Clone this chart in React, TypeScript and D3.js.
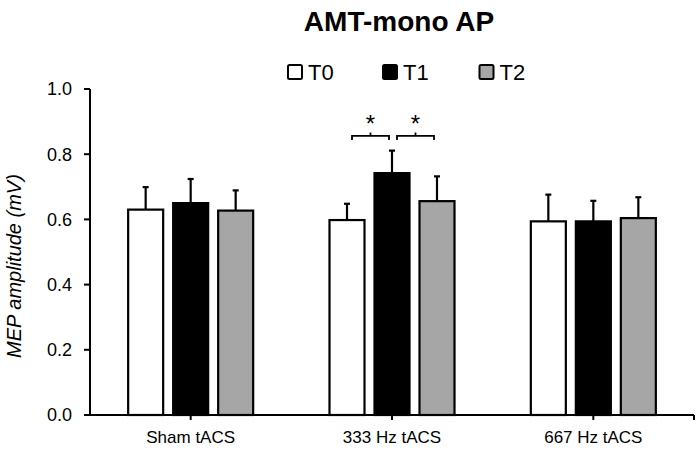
import React from "react";
import * as d3 from "d3";

const categories = ["Sham tACS", "333 Hz tACS", "667 Hz tACS"];
const series = ["T0", "T1", "T2"];
const seriesColors = ["#ffffff", "#000000", "#a6a6a6"];
const meanT0 = [0.63, 0.598, 0.594];
const meanT1 = [0.65, 0.742, 0.594];
const meanT2 = [0.627, 0.656, 0.604];
const errT0 = [0.069, 0.05, 0.082];
const errT1 = [0.074, 0.069, 0.063];
const errT2 = [0.062, 0.076, 0.064];
const yTicks = [0, 0.2, 0.4, 0.6, 0.8, 1.0];
// significance brackets: category index, series from, series to, level
const sigCategory = [1, 1];
const sigFrom = [0, 1];
const sigTo = [1, 2];
const sigLevel = [0.856, 0.856];

const W = 696;
const H = 450;
const FONT = "'Liberation Sans', Arial, sans-serif";

export default function App() {
  const means = [meanT0, meanT1, meanT2];
  const errs = [errT0, errT1, errT2];
  const x0 = d3.scaleBand<string>().domain(categories).range([90, 694]).padding(0);
  const groupW = 135;
  const x1 = d3
    .scaleBand<string>()
    .domain(series)
    .range([0, groupW])
    .paddingInner(0.222)
    .paddingOuter(0.111);
  const y = d3.scaleLinear().domain([0, 1]).range([415, 89]);
  const bw = x1.bandwidth();
  const barX = (ci: number, si: number) =>
    (x0(categories[ci]) as number) + x0.bandwidth() / 2 - groupW / 2 + (x1(series[si]) as number);
  const barC = (ci: number, si: number) => barX(ci, si) + bw / 2;

  const legendX = [287, 382, 478.5];

  return (
    <svg width={W} height={H} style={{ position: "absolute", left: 0, top: 0, background: "#fff" }}>
      <rect x={0} y={0} width={W} height={H} fill="#fff" />
      {/* title */}
      <text x={399} y={31} textAnchor="middle" fontFamily={FONT} fontWeight="bold" fontSize={28} fill="#000">
        AMT-mono AP
      </text>
      {/* legend */}
      {series.map((s, i) => (
        <g key={s}>
          <rect
            x={legendX[i] + 1}
            y={65}
            width={14}
            height={14}
            rx={1.5}
            fill={seriesColors[i]}
            stroke="#000"
            strokeWidth={2}
          />
          <text x={legendX[i] + 21} y={80} fontFamily={FONT} fontSize={22} fill="#000">
            {s}
          </text>
        </g>
      ))}
      {/* y-axis label */}
      <text
        transform={`translate(21, 266) rotate(-90)`}
        textAnchor="middle"
        fontFamily={FONT}
        fontStyle="italic"
        fontSize={20}
        fill="#000"
      >
        MEP amplitude (mV)
      </text>
      {/* y axis */}
      <line x1={90} x2={90} y1={y(1)} y2={y(0)} stroke="#000" strokeWidth={2} />
      {yTicks.map((t) => (
        <g key={t}>
          <line x1={84} x2={90} y1={y(t)} y2={y(t)} stroke="#000" strokeWidth={2} />
          <text
            x={72}
            y={y(t)}
            dy="0.36em"
            textAnchor="end"
            fontFamily={FONT}
            fontSize={18}
            fill="#000"
          >
            {d3.format(".1f")(t)}
          </text>
        </g>
      ))}
      {/* bars */}
      {categories.map((c, ci) =>
        series.map((s, si) => {
          const v = means[si][ci];
          const e = errs[si][ci];
          const cx = barC(ci, si);
          return (
            <g key={c + s}>
              <line x1={cx} x2={cx} y1={y(v)} y2={y(v + e)} stroke="#000" strokeWidth={2.2} />
              <line x1={cx - 3} x2={cx + 3} y1={y(v + e)} y2={y(v + e)} stroke="#000" strokeWidth={2.2} />
              <rect
                x={barX(ci, si)}
                y={y(v)}
                width={bw}
                height={y(0) - y(v)}
                fill={seriesColors[si]}
                stroke="#000"
                strokeWidth={2.2}
              />
            </g>
          );
        })
      )}
      {/* x axis */}
      <line x1={84} x2={694} y1={y(0)} y2={y(0)} stroke="#000" strokeWidth={2} />
      {categories.map((c) => {
        const cx = (x0(c) as number) + x0.bandwidth() / 2;
        return (
          <g key={c}>
            <line x1={cx} x2={cx} y1={y(0)} y2={y(0) + 5} stroke="#000" strokeWidth={2} />
            <text x={cx} y={443} textAnchor="middle" fontFamily={FONT} fontSize={17} fill="#000">
              {c}
            </text>
          </g>
        );
      })}
      <line x1={694} x2={694} y1={y(0)} y2={y(0) + 5} stroke="#000" strokeWidth={2} />
      {/* significance brackets */}
      {sigCategory.map((ci, k) => {
        const xa = barC(ci, sigFrom[k]) + 5;
        const xb = barC(ci, sigTo[k]) - 3;
        const yy = y(sigLevel[k]);
        const xm = (xa + xb) / 2;
        return (
          <g key={k}>
            <path
              d={`M${xa},${yy + 4}V${yy}H${xb}V${yy + 4}M${xm},${yy}V${yy - 3.5}`}
              fill="none"
              stroke="#000"
              strokeWidth={1.8}
            />
            <text x={xm} y={yy - 4} textAnchor="middle" fontFamily={FONT} fontSize={24} fill="#000">
              *
            </text>
          </g>
        );
      })}
    </svg>
  );
}
